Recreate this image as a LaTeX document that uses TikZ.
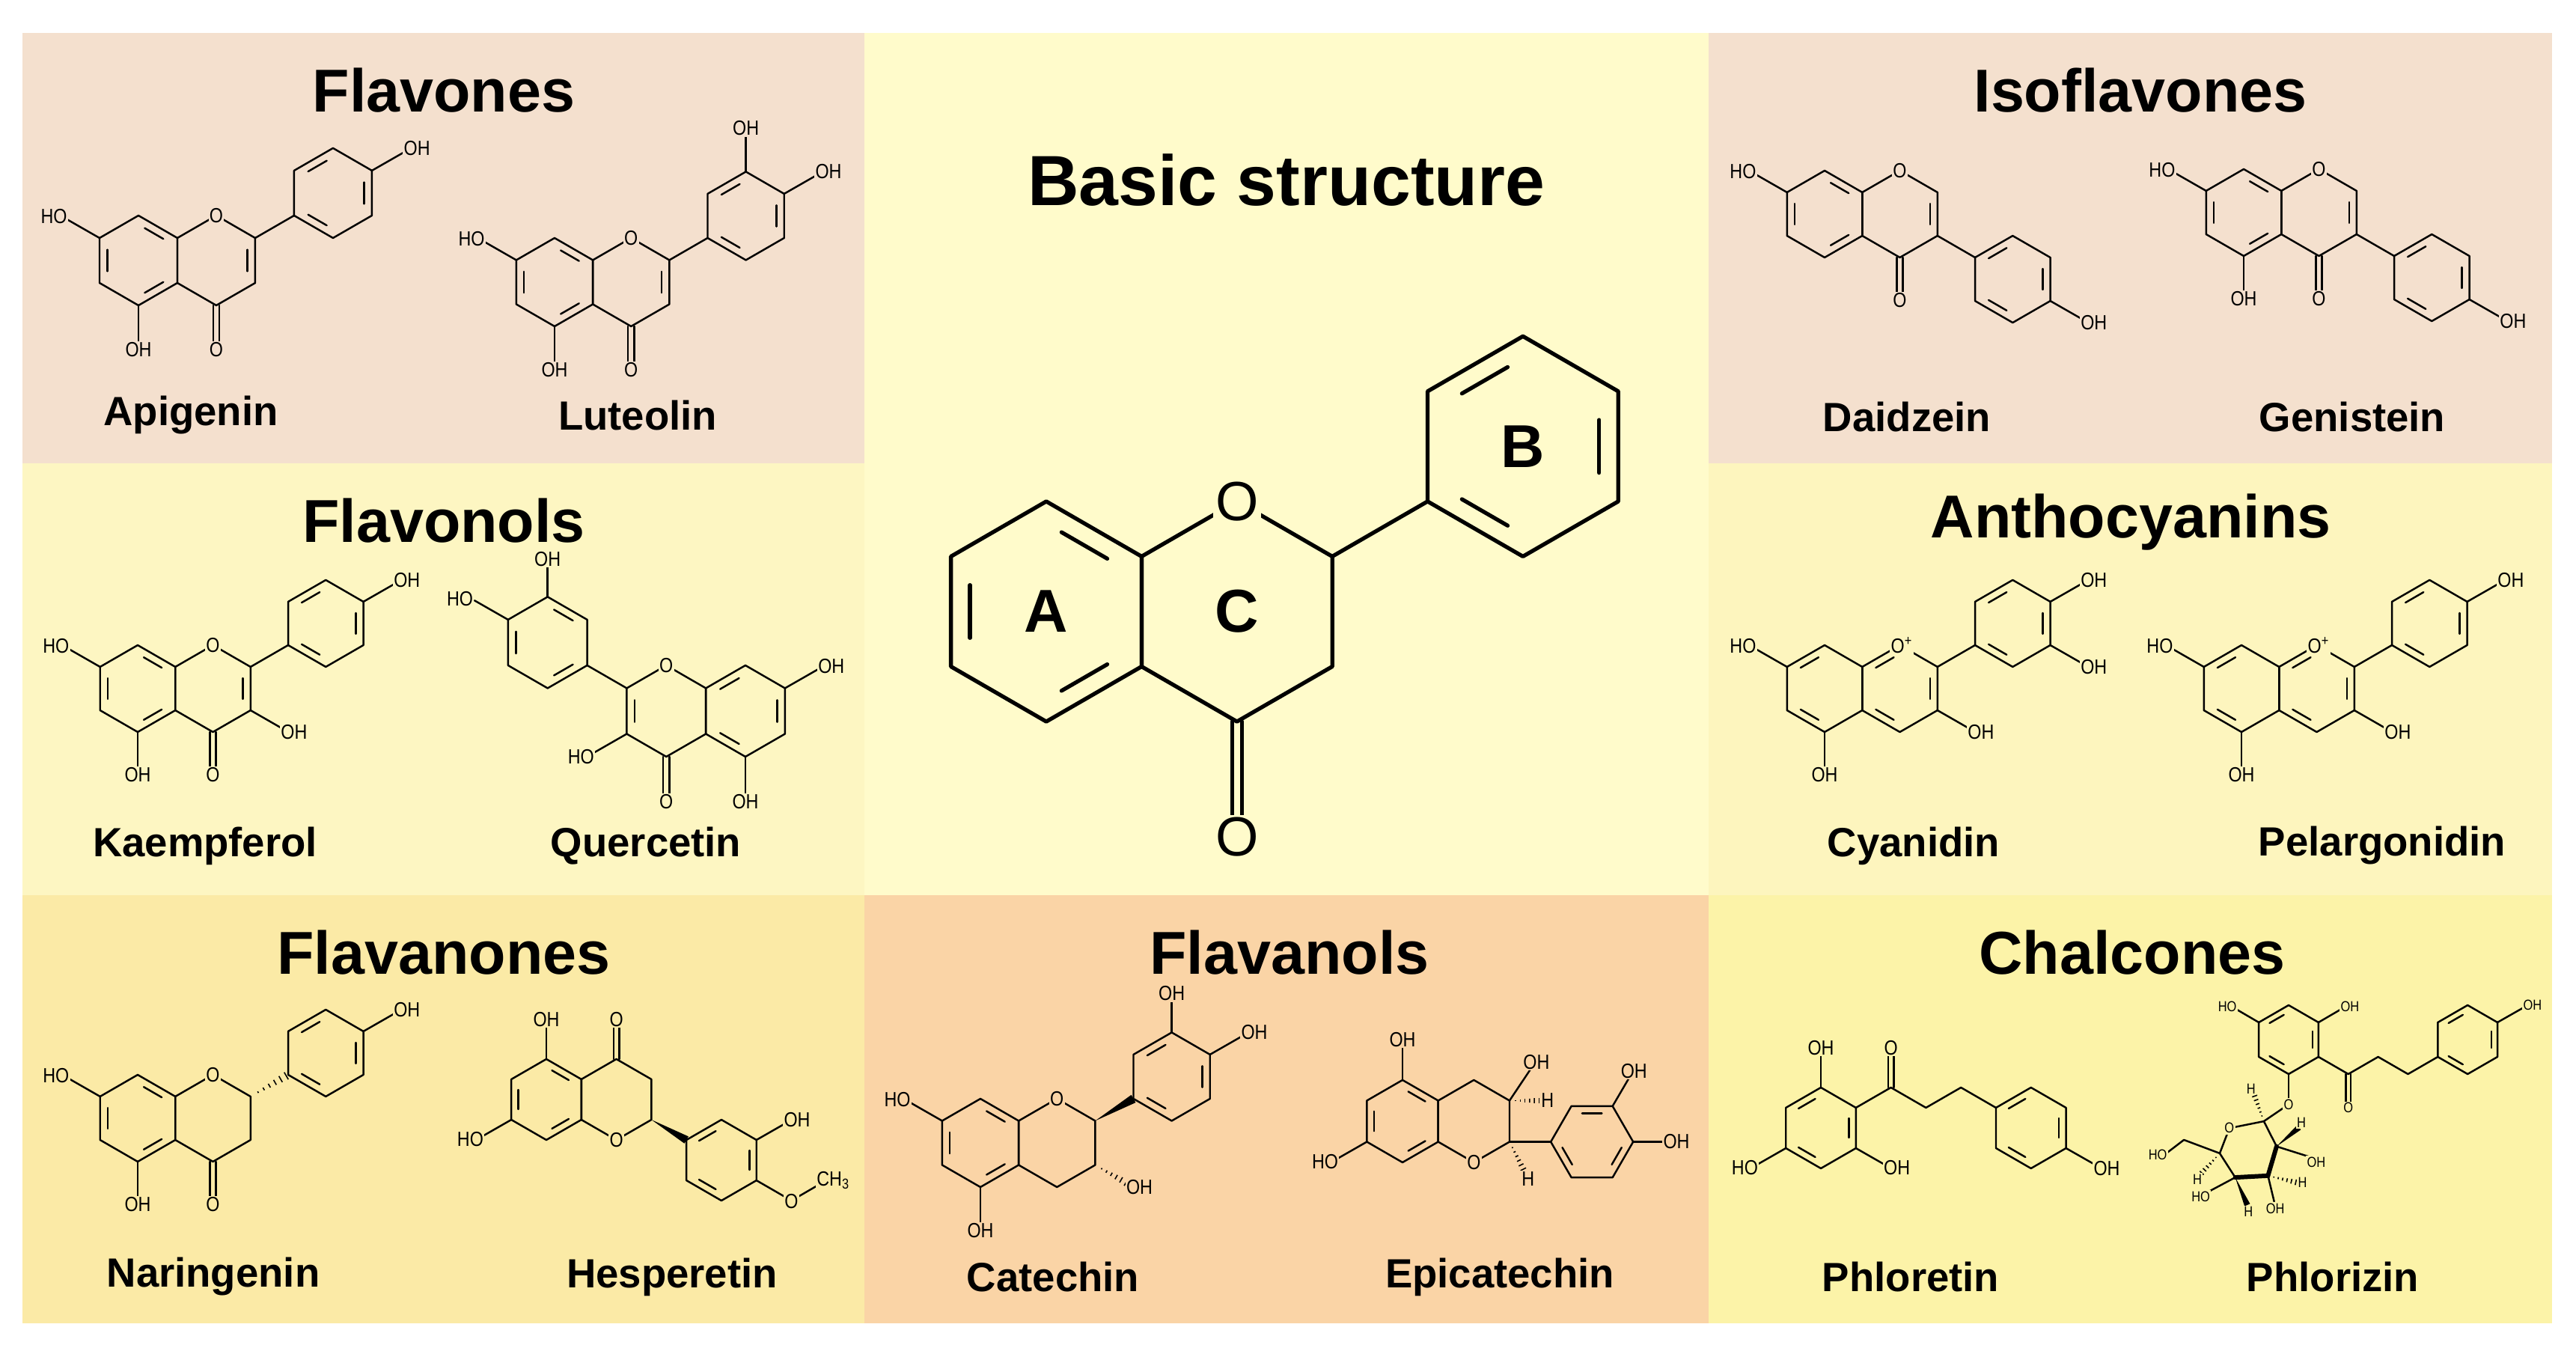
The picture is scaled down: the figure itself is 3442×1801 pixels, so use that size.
\documentclass[tikz,border=0pt]{standalone}
\usepackage{fontspec}
\setmainfont{Liberation Sans}
\newfontfamily\chemf{Liberation Sans}[FakeStretch=0.85]
\usetikzlibrary{calc}
\definecolor{cPink}{HTML}{F4E0CE}
\definecolor{cFlo}{HTML}{FDF6C2}
\definecolor{cFna}{HTML}{FBEAA6}
\definecolor{cCen}{HTML}{FFFBCB}
\definecolor{cFal}{HTML}{FAD4A6}
\definecolor{cAnt}{HTML}{FDF5BE}
\definecolor{cCha}{HTML}{FCF3A8}
\def\bgc{cPink}
\newcommand\hx[3]{\draw[bond] ({#1+cos(#3)},{#2+sin(#3)}) -- ({#1+cos(#3+60)},{#2+sin(#3+60)}) -- ({#1+cos(#3+120)},{#2+sin(#3+120)}) -- ({#1+cos(#3+180)},{#2+sin(#3+180)}) -- ({#1+cos(#3+240)},{#2+sin(#3+240)}) -- ({#1+cos(#3+300)},{#2+sin(#3+300)}) -- cycle;}
\newcommand\rg[4]{\hx{#1}{#2}{#3}\foreach \e in {#4}{\draw[bond] ({#1+0.8*(0.8*cos(#3+60*\e)+0.2*cos(#3+60*\e+60))},{#2+0.8*(0.8*sin(#3+60*\e)+0.2*sin(#3+60*\e+60))}) -- ({#1+0.8*(0.2*cos(#3+60*\e)+0.8*cos(#3+60*\e+60))},{#2+0.8*(0.2*sin(#3+60*\e)+0.8*sin(#3+60*\e+60))});}}
\newcommand\bd[2]{\draw[bond] (#1) -- (#2);}
\newcommand\lb[2]{\node[lab] at (#1) {#2};}
\newcommand\ls[2]{\node[lab,font=\chemf\fontsize{5.5}{5.5}\selectfont] at (#1) {#2};}
\newcommand\co[3]{\draw[bond] ({#1-0.07},#2) -- ({#1-0.07},#3); \draw[bond] ({#1+0.07},#2) -- ({#1+0.07},#3);}
\newcommand\wdg[2]{\fill ($(#1)$) -- ($(#2)!0.1!90:(#1)$) -- ($(#2)!0.1!-90:(#1)$) -- cycle;}
\newcommand\hsh[2]{\foreach \t in {0.2,0.35,0.5,0.65,0.8,0.95}{\draw[line width=0.45pt] ($(#1)!\t!(#2)!0.1!90:(#1)$) -- ($(#1)!\t!(#2)!0.1!-90:(#1)$);}}
\begin{document}
\begin{tikzpicture}[x=0.01cm,y=-0.01cm,
  bond/.style={line width=0.7pt,line cap=round,line join=round},
  lab/.style={font=\chemf\fontsize{7.8}{7.8}\selectfont,fill=\bgc,inner sep=0.4pt},
  ttl/.style={font=\bfseries\fontsize{23}{23}\selectfont,inner sep=0pt},
  nm/.style={font=\bfseries\fontsize{15.5}{15.5}\selectfont}]
\useasboundingbox (0,0) rectangle (3442,1801);
\fill[white] (0,0) rectangle (3442,1801);
\fill[cPink] (30,44) rectangle (1155,619);
\fill[cFlo] (30,619) rectangle (1155,1196);
\fill[cFna] (30,1196) rectangle (1155,1768);
\fill[cCen] (1155,44) rectangle (2283,1196);
\fill[cFal] (1155,1196) rectangle (2283,1768);
\fill[cPink] (2283,44) rectangle (3410,619);
\fill[cAnt] (2283,619) rectangle (3410,1196);
\fill[cCha] (2283,1196) rectangle (3410,1768);

% titles and names
\node[ttl] (t1) at (593,121) {Flavones};
\node[ttl] (t2) at (593,696) {Flavonols};
\node[ttl] (t3) at (593,1273) {Flavanones};
\node[font=\bfseries\fontsize{27}{27}\selectfont] (t4) at (1719,241) {Basic structure};
\node[ttl] (t5) at (1723,1273) {Flavanols};
\node[ttl] (t6) at (2860,121) {Isoflavones};
\node[ttl] (t7) at (2847,698) {Anthocyanins};
\node[ttl] (t8) at (2849,1273) {Chalcones};
\node[nm] (n1) at (255,555) {Apigenin};
\node[nm] (n2) at (852,555) {Luteolin};
\node[nm] (n3) at (274,1130) {Kaempferol};
\node[nm] (n4) at (863,1130) {Quercetin};
\node[nm] (n5) at (285,1706) {Naringenin};
\node[nm] (n6) at (898,1706) {Hesperetin};
\node[nm] (n7) at (1407,1706) {Catechin};
\node[nm] (n8) at (2004,1706) {Epicatechin};
\node[nm] (n9) at (2548,557) {Daidzein};
\node[nm] (n10) at (3143,557) {Genistein};
\node[nm] (n11) at (2557,1130) {Cyanidin};
\node[nm] (n12) at (3183,1130) {Pelargonidin};
\node[nm] (n13) at (2553,1706) {Phloretin};
\node[nm] (n14) at (3117,1706) {Phlorizin};

% ---------- Apigenin
\def\bgc{cPink}
\begin{scope}[shift={(185,348)}]\begin{scope}[x={(0.6cm,0)},y={(0,0.6cm)}]
\rg{0}{0}{90}{5,1,3}\rg{1.732}{0}{90}{4}
\bd{-0.866,0.5}{-1.6,0.92}\bd{0,-1}{0,-1.8}\co{1.732}{-1}{-1.8}
\bd{2.598,0.5}{3.464,1}\rg{4.33}{1.5}{90}{0,2,4}\bd{5.196,2}{5.93,2.42}
\lb{-1.88,0.98}{HO}\lb{0,-1.98}{OH}\lb{1.732,-1.98}{O}\lb{1.732,1}{O}\lb{6.2,2.5}{OH}
\end{scope}\end{scope}
% ---------- Luteolin
\begin{scope}[shift={(741,377)}]\begin{scope}[x={(0.59cm,0)},y={(0,0.59cm)}]
\rg{0}{0}{90}{5,1,3}\rg{1.732}{0}{90}{4}
\bd{-0.866,0.5}{-1.6,0.92}\bd{0,-1}{0,-1.8}\co{1.732}{-1}{-1.8}
\bd{2.598,0.5}{3.464,1}\rg{4.33}{1.5}{90}{0,2,4}\bd{5.196,2}{5.93,2.42}\bd{4.33,2.5}{4.33,3.3}
\lb{-1.88,0.98}{HO}\lb{0,-1.98}{OH}\lb{1.732,-1.98}{O}\lb{1.732,1}{O}\lb{6.2,2.5}{OH}\lb{4.33,3.48}{OH}
\end{scope}\end{scope}
% ---------- Kaempferol
\def\bgc{cFlo}
\begin{scope}[shift={(184,920)}]\begin{scope}[x={(0.58cm,0)},y={(0,0.58cm)}]
\rg{0}{0}{90}{5,1,3}\rg{1.732}{0}{90}{4}
\bd{-0.866,0.5}{-1.6,0.92}\bd{0,-1}{0,-1.8}\co{1.732}{-1}{-1.8}
\bd{2.598,0.5}{3.464,1}\rg{4.33}{1.5}{90}{0,2,4}\bd{5.196,2}{5.93,2.42}\bd{2.598,-0.5}{3.33,-0.92}
\lb{-1.88,0.98}{HO}\lb{0,-1.98}{OH}\lb{1.732,-1.98}{O}\lb{1.732,1}{O}\lb{6.2,2.5}{OH}\lb{3.6,-1.0}{OH}
\end{scope}\end{scope}
% ---------- Quercetin (mirrored)
\begin{scope}[shift={(996,950)}]\begin{scope}[x={(-0.61cm,0)},y={(0,0.61cm)}]
\rg{0}{0}{90}{5,1,3}\rg{1.732}{0}{90}{4}
\bd{-0.866,0.5}{-1.6,0.92}\bd{0,-1}{0,-1.8}\co{1.732}{-1}{-1.8}
\bd{2.598,0.5}{3.464,1}\rg{4.33}{1.5}{90}{0,2,4}\bd{5.196,2}{5.93,2.42}\bd{2.598,-0.5}{3.33,-0.92}\bd{4.33,2.5}{4.33,3.15}
\lb{-1.88,0.98}{OH}\lb{0,-1.98}{OH}\lb{1.732,-1.98}{O}\lb{1.732,1}{O}\lb{6.25,2.45}{HO}\lb{3.6,-1.0}{HO}\lb{4.33,3.32}{OH}
\end{scope}\end{scope}
% ---------- Naringenin
\def\bgc{cFna}
\begin{scope}[shift={(184,1494)}]\begin{scope}[x={(0.58cm,0)},y={(0,0.58cm)}]
\rg{0}{0}{90}{5,1,3}\hx{1.732}{0}{90}
\bd{-0.866,0.5}{-1.6,0.92}\bd{0,-1}{0,-1.8}\co{1.732}{-1}{-1.8}
\hsh{2.598,0.5}{3.464,1}\rg{4.33}{1.5}{90}{0,2,4}\bd{5.196,2}{5.93,2.42}
\lb{-1.88,0.98}{HO}\lb{0,-1.98}{OH}\lb{1.732,-1.98}{O}\lb{1.732,1}{O}\lb{6.2,2.5}{OH}
\end{scope}\end{scope}
% ---------- Hesperetin (flipped)
\begin{scope}[shift={(730,1469)}]\begin{scope}[x={(0.54cm,0)},y={(0,-0.54cm)}]
\rg{0}{0}{90}{5,1,3}\hx{1.732}{0}{90}
\bd{-0.866,0.5}{-1.6,0.92}\bd{0,-1}{0,-1.8}\co{1.732}{-1}{-1.8}
\wdg{2.598,0.5}{3.464,1}\rg{4.33}{1.5}{90}{0,2,4}\bd{5.196,1}{5.93,0.58}
\bd{5.196,2}{6.062,2.5}\bd{6.062,2.5}{6.75,2.1}
\lb{-1.88,0.98}{HO}\lb{0,-1.98}{OH}\lb{1.732,-1.98}{O}\lb{1.732,1}{O}\lb{6.2,0.5}{OH}\lb{6.062,2.52}{O}\lb{7.1,2.0}{CH\textsubscript{3}}
\end{scope}\end{scope}
% ---------- Catechin
\def\bgc{cFal}
\begin{scope}[shift={(1310,1527)}]\begin{scope}[x={(0.59cm,0)},y={(0,0.59cm)}]
\rg{0}{0}{90}{5,1,3}\hx{1.732}{0}{90}
\bd{-0.866,0.5}{-1.6,0.92}\bd{0,-1}{0,-1.8}
\wdg{2.598,0.5}{3.464,1}\rg{4.33}{1.5}{90}{0,2,4}\bd{5.196,2}{5.93,2.42}\bd{4.33,2.5}{4.33,3.2}
\hsh{2.598,-0.5}{3.33,-0.92}
\lb{-1.88,0.98}{HO}\lb{0,-1.98}{OH}\lb{1.732,1}{O}\lb{6.2,2.5}{OH}\lb{4.33,3.38}{OH}\lb{3.6,-1.0}{OH}
\end{scope}\end{scope}
% ---------- Epicatechin (flipped)
\begin{scope}[shift={(1874,1498)}]\begin{scope}[x={(0.55cm,0)},y={(0,-0.55cm)}]
\rg{0}{0}{90}{5,1,3}\hx{1.732}{0}{90}
\bd{-0.866,0.5}{-1.6,0.92}\bd{0,-1}{0,-1.8}
\bd{2.598,-0.5}{3.1,-1.25}\hsh{2.598,-0.5}{3.35,-0.5}
\bd{2.598,0.5}{3.6,0.5}\rg{4.6}{0.5}{0}{0,2,4}\hsh{2.598,0.5}{2.95,1.2}
\bd{5.1,-0.366}{5.5,-1.05}\bd{5.6,0.5}{6.35,0.5}
\lb{-1.88,0.98}{HO}\lb{0,-1.98}{OH}\lb{1.732,1}{O}\lb{3.25,-1.43}{OH}\lb{3.52,-0.5}{H}\lb{3.05,1.4}{H}\lb{5.62,-1.22}{OH}\lb{6.65,0.5}{OH}
\end{scope}\end{scope}
% ---------- Daidzein
\def\bgc{cPink}
\begin{scope}[shift={(2438,286)}]\begin{scope}[x={(0.58cm,0)},y={(0,0.58cm)}]
\rg{0}{0}{90}{5,1,3}\rg{1.732}{0}{90}{4}
\bd{-0.866,0.5}{-1.6,0.92}\co{1.732}{-1}{-1.8}
\bd{2.598,-0.5}{3.464,-1}\rg{4.33}{-1.5}{90}{0,2,4}\bd{5.196,-2}{5.93,-2.42}
\lb{-1.88,0.98}{HO}\lb{1.732,-1.98}{O}\lb{1.732,1}{O}\lb{6.2,-2.5}{OH}
\end{scope}\end{scope}
% ---------- Genistein
\begin{scope}[shift={(2998,284)}]\begin{scope}[x={(0.58cm,0)},y={(0,0.58cm)}]
\rg{0}{0}{90}{5,1,3}\rg{1.732}{0}{90}{4}
\bd{-0.866,0.5}{-1.6,0.92}\bd{0,-1}{0,-1.8}\co{1.732}{-1}{-1.8}
\bd{2.598,-0.5}{3.464,-1}\rg{4.33}{-1.5}{90}{0,2,4}\bd{5.196,-2}{5.93,-2.42}
\lb{-1.88,0.98}{HO}\lb{0,-1.98}{OH}\lb{1.732,-1.98}{O}\lb{1.732,1}{O}\lb{6.2,-2.5}{OH}
\end{scope}\end{scope}
% ---------- Cyanidin
\def\bgc{cAnt}
\begin{scope}[shift={(2438,920)}]\begin{scope}[x={(0.58cm,0)},y={(0,0.58cm)}]
\rg{0}{0}{90}{0,2}\rg{1.732}{0}{90}{0,2,4}
\bd{-0.866,0.5}{-1.6,0.92}\bd{0,-1}{0,-1.8}\bd{2.598,-0.5}{3.33,-0.92}
\bd{2.598,0.5}{3.464,1}\rg{4.33}{1.5}{90}{0,2,4}\bd{5.196,2}{5.93,2.42}\bd{5.196,1}{5.93,0.58}
\lb{-1.88,0.98}{HO}\lb{0,-1.98}{OH}\lb{1.78,1}{O\textsuperscript{+}}\lb{6.2,2.5}{OH}\lb{6.2,0.5}{OH}\lb{3.6,-1.0}{OH}
\end{scope}\end{scope}
% ---------- Pelargonidin
\begin{scope}[shift={(2995,920)}]\begin{scope}[x={(0.58cm,0)},y={(0,0.58cm)}]
\rg{0}{0}{90}{0,2}\rg{1.732}{0}{90}{0,2,4}
\bd{-0.866,0.5}{-1.6,0.92}\bd{0,-1}{0,-1.8}\bd{2.598,-0.5}{3.33,-0.92}
\bd{2.598,0.5}{3.464,1}\rg{4.33}{1.5}{90}{0,2,4}\bd{5.196,2}{5.93,2.42}
\lb{-1.88,0.98}{HO}\lb{0,-1.98}{OH}\lb{1.78,1}{O\textsuperscript{+}}\lb{6.2,2.5}{OH}\lb{3.6,-1.0}{OH}
\end{scope}\end{scope}
% ---------- Phloretin
\def\bgc{cCha}
\begin{scope}[shift={(2433,1507)}]\begin{scope}[x={(0.54cm,0)},y={(0,0.54cm)}]
\rg{0}{0}{90}{0,2,4}
\bd{0.866,0.5}{1.732,1}\co{1.732}{1}{1.8}
\draw[bond] (1.732,1) -- (2.598,0.5) -- (3.464,1) -- (4.33,0.5);
\rg{5.196}{0}{90}{0,2,4}\bd{6.062,-0.5}{6.8,-0.92}
\bd{0,1}{0,1.8}\bd{0.866,-0.5}{1.6,-0.92}\bd{-0.866,-0.5}{-1.6,-0.92}
\lb{1.732,1.98}{O}\lb{7.07,-1.0}{OH}\lb{0,1.98}{OH}\lb{1.88,-0.98}{OH}\lb{-1.88,-0.98}{HO}
\end{scope}\end{scope}
% ---------- Phlorizin
\begin{scope}[shift={(3058,1389)}]\begin{scope}[x={(0.46cm,0)},y={(0,0.46cm)}]
\rg{0}{0}{90}{0,2,4}
\bd{-0.866,0.5}{-1.5,0.87}\bd{0.866,0.5}{1.5,0.87}
\bd{0.866,-0.5}{1.732,-1}\co{1.732}{-1}{-1.8}
\draw[bond] (1.732,-1) -- (2.598,-0.5) -- (3.464,-1) -- (4.33,-0.5);
\rg{5.196}{0}{90}{0,2,4}\bd{6.062,0.5}{6.8,0.92}
\bd{0,-1}{0,-1.72}\bd{0,-1.88}{-0.72,-2.37}
\draw[bond] (-0.72,-2.37) -- (-1.72,-2.57) -- (-2.0,-3.3) -- (-1.55,-4.0) -- (-0.6,-3.95) -- (-0.35,-3.1) -- cycle;
\draw[line width=1.7pt,line cap=round] (-0.35,-3.1) -- (-0.6,-3.95) -- (-1.55,-4.0);
\hsh{-0.72,-2.37}{-1.0,-1.6}
\wdg{-0.35,-3.1}{0.3,-2.55}\bd{-0.35,-3.1}{0.6,-3.4}
\hsh{-0.6,-3.95}{0.25,-4.15}\bd{-0.6,-3.95}{-0.42,-4.7}
\bd{-1.55,-4.0}{-2.3,-4.4}\wdg{-1.55,-4.0}{-1.2,-4.8}
\hsh{-2.0,-3.3}{-2.55,-3.9}
\draw[bond] (-2.0,-3.3) -- (-3.04,-2.91) -- (-3.55,-3.3);
\ls{-1.78,0.95}{HO}\ls{1.78,0.95}{OH}\ls{1.732,-1.98}{O}\ls{7.08,1.0}{OH}\ls{0,-1.88}{O}\ls{-1.72,-2.57}{O}
\ls{-1.09,-1.43}{H}\ls{0.37,-2.4}{H}\ls{0.8,-3.55}{OH}\ls{0.4,-4.15}{H}\ls{-0.39,-4.9}{OH}
\ls{-2.55,-4.55}{HO}\ls{-1.17,-5.0}{H}\ls{-2.65,-4.05}{H}\ls{-3.8,-3.35}{HO}
\end{scope}\end{scope}
% ---------- Basic structure
\def\bgc{cCen}
\begin{scope}[shift={(1398,817)}]\begin{scope}[x={(1.47cm,0)},y={(0,1.47cm)},bond/.style={line width=1.5pt,line cap=round,line join=round}]
\rg{0}{0}{90}{5,1,3}\hx{1.732}{0}{90}
\draw[bond] ({1.732-0.045},-1) -- ({1.732-0.045},-1.88);\draw[bond] ({1.732+0.045},-1) -- ({1.732+0.045},-1.88);
\bd{2.598,0.5}{3.464,1}\rg{4.33}{1.5}{90}{0,2,4}
\node[fill=cCen,inner sep=1pt,font=\fontsize{21}{21}\selectfont] (o1) at (1.732,1) {O};
\node[fill=cCen,inner sep=1pt,font=\fontsize{21}{21}\selectfont] (o2) at (1.732,-2.05) {O};
\node[font=\bfseries\fontsize{23}{23}\selectfont] (la) at (0,0) {A};
\node[font=\bfseries\fontsize{23}{23}\selectfont] (lc) at (1.732,0) {C};
\node[font=\bfseries\fontsize{23}{23}\selectfont] (lb) at (4.33,1.5) {B};
\end{scope}\end{scope}
\end{tikzpicture}
\end{document}
